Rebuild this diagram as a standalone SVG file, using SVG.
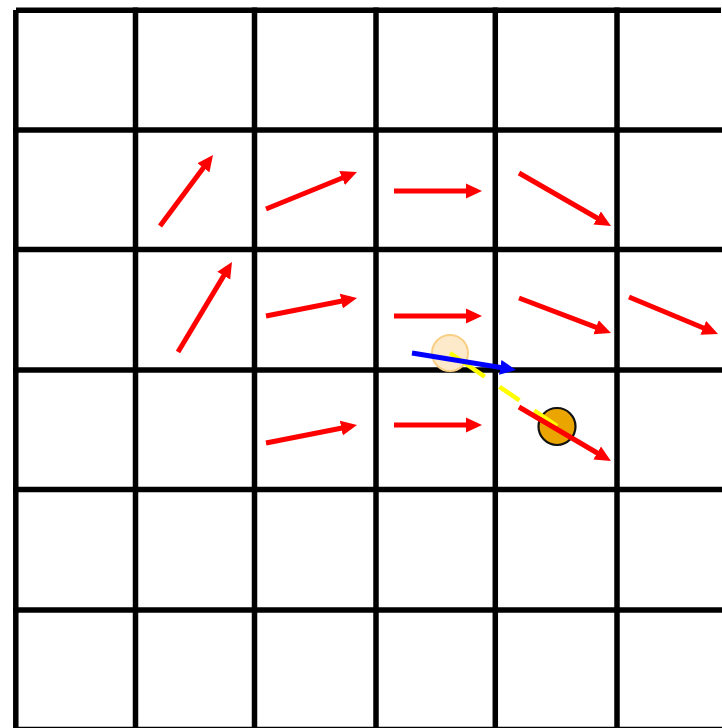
<svg xmlns="http://www.w3.org/2000/svg" width="722" height="728" viewBox="0 0 722 728">
<style>
.grid line{stroke:#000;stroke-width:5.5}
.ra{stroke:#ff0000;stroke-width:5;fill:none;marker-end:url(#hr)}
.ba{stroke:#0000ff;stroke-width:5;fill:none;marker-end:url(#hb)}
</style>
<defs>
<marker id="hr" markerUnits="userSpaceOnUse" markerWidth="16" markerHeight="16" refX="10" refY="8" orient="auto"><path d="M0,0.5 L16,8 L0,15.5 z" fill="#ff0000"/></marker>
<marker id="hb" markerUnits="userSpaceOnUse" markerWidth="16" markerHeight="16" refX="10" refY="8" orient="auto"><path d="M0,0.5 L16,8 L0,15.5 z" fill="#0000ff"/></marker>
</defs>
<rect width="722" height="728" fill="#fff"/>
<g id="grid" class="grid">
<line x1="16" y1="10.3" x2="721" y2="10.3"/>
<line x1="13" y1="130" x2="722" y2="130"/>
<line x1="13" y1="249.5" x2="722" y2="249.5"/>
<line x1="13" y1="370" x2="722" y2="370"/>
<line x1="13" y1="489.5" x2="722" y2="489.5"/>
<line x1="13" y1="610" x2="722" y2="610"/>
<line x1="13" y1="729.5" x2="722" y2="729.5"/>
<line x1="15.8" y1="10" x2="15.8" y2="728"/>
<line x1="135.5" y1="7.5" x2="135.5" y2="728"/>
<line x1="254.5" y1="7.5" x2="254.5" y2="728"/>
<line x1="376" y1="7.5" x2="376" y2="728"/>
<line x1="495.3" y1="7.5" x2="495.3" y2="728"/>
<line x1="617" y1="7.5" x2="617" y2="728"/>
</g>
<g id="ghost">
<circle cx="450" cy="353" r="18" fill="#fdeacb" stroke="#f8cf85" stroke-width="2"/>
</g>
<g id="agent">
<circle cx="557" cy="426.5" r="18.5" fill="#eaa500" stroke="#111" stroke-width="2.2"/>
</g>
<g id="connectors">
<path d="M450,353 L557,426" stroke="#ffff00" stroke-width="4.5" fill="none" stroke-dasharray="42 18 24 18 30"/>
<line class="ra" x1="160" y1="226" x2="209.4" y2="159.8"/>
<line class="ra" x1="266" y1="209" x2="351.4" y2="174.3"/>
<line class="ra" x1="394" y1="191" x2="476" y2="191"/>
<line class="ra" x1="519" y1="173" x2="605.8" y2="223"/>
<line class="ra" x1="178" y1="352" x2="228.9" y2="267.1"/>
<line class="ra" x1="266" y1="316" x2="351.1" y2="299.2"/>
<line class="ra" x1="394" y1="316" x2="476" y2="316"/>
<line class="ra" x1="519" y1="298" x2="605.4" y2="330.9"/>
<line class="ra" x1="629" y1="297" x2="712.5" y2="331.7"/>
<line class="ra" x1="266" y1="443" x2="351.1" y2="426.2"/>
<line class="ra" x1="394" y1="425" x2="476" y2="425"/>
<line class="ra" x1="519" y1="407" x2="605.8" y2="458"/>
<line class="ba" x1="412" y1="353" x2="510.1" y2="369"/>
</g>
</svg>
